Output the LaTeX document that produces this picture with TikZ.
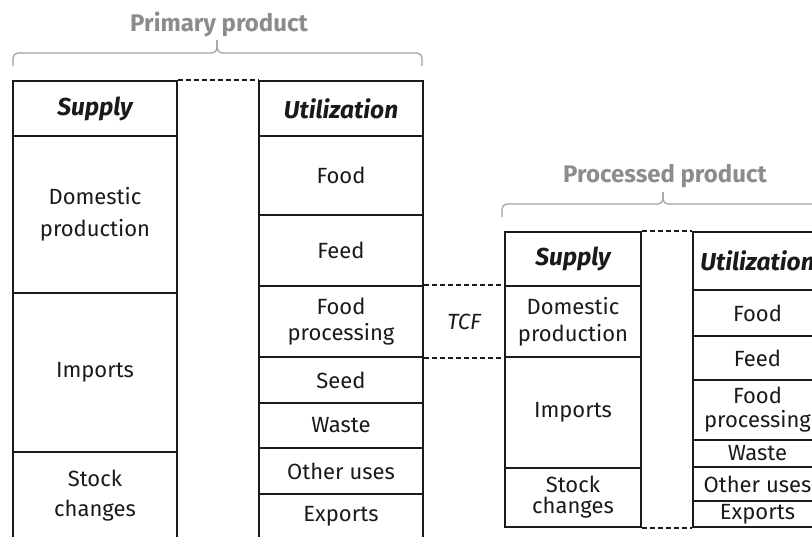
\documentclass[tikz,border=0pt]{standalone}
\usepackage{fontspec}
\setmainfont{Fira Sans}
\definecolor{linec}{HTML}{1A1A1A}
\definecolor{titlec}{HTML}{8C8C8C}
\definecolor{bracec}{HTML}{A0A0A0}
\begin{document}
\begin{tikzpicture}[x=1pt,y=-1pt,
  cell/.style={draw=linec, line width=1.8pt, inner sep=0pt, align=center, text=linec,
    font=\fontsize{22}{30}\selectfont},
  head/.style={cell, font=\fontsize{24.5}{28}\selectfont\bfseries\itshape},
  pw/.style={minimum width=164pt},
  qw/.style={minimum width=136pt},
  rw/.style={minimum width=129pt},
  dashline/.style={draw=linec, line width=1.8pt, dash pattern=on 5pt off 3pt},
  bracel/.style={draw=bracec, line width=1.2pt, rounded corners=5pt},
  title/.style={text=titlec, font=\fontsize{24}{28}\selectfont\bfseries, inner sep=0pt}]
\useasboundingbox (0,0) rectangle (812,536);
\clip (0,0) rectangle (812,536);
% ---------- primary product ----------
\node[title] (ptitle) at (219,24) {Primary product};
\draw[bracel] (13,66) -- (13,53) -- (217,53) -- (217,40);
\draw[bracel] (217,40) -- (217,53) -- (422,53) -- (422,66);
% supply
\node[head,pw,minimum height=55pt] (psh) at (95,108.5) {Supply};
\node[cell,pw,minimum height=157pt,font=\fontsize{22}{32}\selectfont] (psd) at (95,214.5) {Domestic\\production};
\node[cell,pw,minimum height=159pt] (psi) at (95,372.5) {Imports};
\node[cell,pw,minimum height=88pt,font=\fontsize{22}{30}\selectfont] (pss) at (95,496) {Stock\\changes};
% utilization
\node[head,pw,minimum height=55pt] (puh) at (341,108.5) {Utilization};
\node[cell,pw,minimum height=79pt] (puf) at (341,175.5) {Food};
\node[cell,pw,minimum height=71pt] (pufe) at (341,250.5) {Feed};
\node[cell,pw,minimum height=71pt,font=\fontsize{22}{26}\selectfont] (pufp) at (341,321.5) {Food\\processing};
\node[cell,pw,minimum height=46pt] (pus) at (341,380) {Seed};
\node[cell,pw,minimum height=45pt] (puw) at (341,425.5) {Waste};
\node[cell,pw,minimum height=46pt] (puo) at (341,471) {Other uses};
\node[cell,pw,minimum height=44pt] (pue) at (341,516) {Exports};
\draw[dashline] (psh.north east) -- (puh.north west);
% ---------- processed product ----------
\node[title] (qtitle) at (665,176) {Processed product};
\draw[bracel] (502,217) -- (502,204) -- (663,204) -- (663,192);
\draw[bracel] (663,192) -- (663,204) -- (830,204) -- (830,217);
% supply
\node[head,qw,minimum height=54pt] (qsh) at (573,259) {Supply};
\node[cell,qw,minimum height=71pt,font=\fontsize{22}{27}\selectfont] (qsd) at (573,321.5) {Domestic\\production};
\node[cell,qw,minimum height=111pt] (qsi) at (573,412.5) {Imports};
\node[cell,qw,minimum height=59pt,font=\fontsize{22}{21}\selectfont] (qss) at (573,497.5) {Stock\\changes};
% utilization
\node[head,rw,minimum height=58pt] (quh) at (757.5,261) {Utilization};
\node[cell,rw,minimum height=46pt] (quf) at (757.5,313) {Food};
\node[cell,rw,minimum height=44pt] (qufe) at (757.5,358) {Feed};
\node[cell,rw,minimum height=60pt,font=\fontsize{22}{24}\selectfont] (qufp) at (757.5,410) {Food\\processing};
\node[cell,rw,minimum height=27pt] (quw) at (757.5,453.5) {Waste};
\node[cell,rw,minimum height=34pt] (quo) at (757.5,484) {Other uses};
\node[cell,rw,minimum height=26pt] (que) at (757.5,514) {Exports};
\draw[dashline] (qsh.north east) -- (quh.north west);
\draw[dashline] (qss.south east) -- (que.south west);
% ---------- TCF link ----------
\draw[dashline] (pufp.north east) -- (qsd.north west);
\draw[dashline] (pufp.south east) -- (qsd.south west);
\node[text=linec, font=\fontsize{22}{24}\selectfont\itshape, inner sep=0pt] (tcf) at (464,322) {TCF};
\end{tikzpicture}
\end{document}
